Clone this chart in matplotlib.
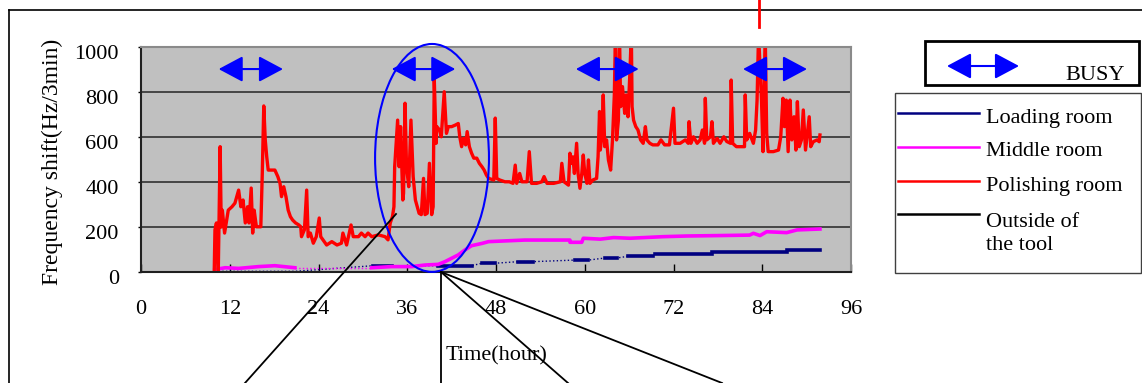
import matplotlib
matplotlib.use('Agg')
import matplotlib.pyplot as plt
from matplotlib.patches import Ellipse, FancyArrowPatch, Rectangle
from matplotlib.lines import Line2D
from matplotlib.transforms import ScaledTranslation

plt.rcParams['font.family'] = ['Liberation Serif', 'DejaVu Serif']

# --- datos (hora, Hz/3min) ---
# Polishing room (rojo)
polish_t1 = [9.9, 10.0, 10.2, 10.45, 10.7, 10.85, 11.0, 11.3, 11.8, 12.3,
             12.7, 13.2, 13.5, 13.8, 14.1, 14.4, 14.6, 14.9, 15.1, 15.3,
             15.6, 16.2, 16.4, 16.6, 16.8, 17.0, 17.2, 17.7, 18.1, 18.5,
             18.8, 19.0, 19.3, 19.6, 19.9, 20.2, 20.5, 20.9, 21.3, 21.6,
             21.7, 22.1, 22.4, 22.6, 22.9, 23.3, 23.7, 24.1, 24.3, 24.6,
             25.1, 25.8, 26.5, 27.1, 27.3, 27.8, 28.4, 28.7, 29.4, 29.8,
             30.3, 30.7, 31.2, 32.1, 33.0, 33.4, 33.7, 34.0, 34.2]
polish_v1 = [0, 187, 218, 5, 557, 200, 275, 173, 275, 290,
             306, 364, 290, 320, 218, 290, 218, 373, 173, 275,
             201, 201, 440, 738, 587, 512, 453, 453, 453, 424,
             394, 335, 379, 335, 275, 246, 231, 218, 210, 201,
             157, 188, 364, 157, 173, 128, 157, 240, 157, 143,
             120, 135, 120, 128, 173, 120, 209, 157, 157, 173,
             157, 173, 157, 165, 157, 143, 218, 246, 290]
polish_t2 = [34.3, 34.7, 34.9, 35.1, 35.4, 35.5, 35.7, 35.9, 36.2, 36.5,
             36.8, 37.1, 37.6, 37.9, 38.2, 38.4, 38.7, 39.0, 39.3, 39.5,
             39.65, 39.9, 40.0, 40.4, 40.6, 41.0, 41.3, 41.55, 42.0, 42.5,
             42.9, 43.1, 43.35, 43.6, 43.9, 44.1, 44.4, 44.7, 45.0, 45.4,
             45.75, 46.1, 46.4, 46.7, 47.0, 47.7, 47.9, 48.1, 48.5, 49.2,
             49.8, 50.3, 50.6, 50.8, 51.2, 51.5, 52.2, 52.5, 52.8, 53.5,
             54.2, 54.5, 54.9, 55.8, 56.7, 56.9, 57.2]
polish_v2 = [468, 675, 468, 646, 320, 350, 750, 468, 379, 675,
             424, 320, 261, 255, 416, 255, 261, 483, 255, 290,
             860, 572, 646, 630, 601, 801, 616, 646, 646, 653,
             660, 601, 557, 594, 565, 624, 557, 528, 506, 506,
             483, 468, 453, 431, 416, 409, 684, 416, 409, 401,
             401, 394, 475, 394, 438, 401, 401, 535, 394, 394,
             401, 424, 394, 394, 401, 483, 401]
polish_t3 = [57.8, 58.0, 58.2, 58.4, 58.6, 58.9, 59.1, 59.35, 59.6, 59.8,
             60.0, 60.3, 60.5, 60.7, 61.1, 61.6, 61.8, 62.0, 62.1, 62.3,
             62.5, 62.7, 62.95, 63.2, 63.5, 63.75, 64.0, 64.15, 64.3, 64.55,
             64.7, 64.85, 65.1, 65.4, 65.6, 65.85, 66.1, 66.3, 66.4, 66.6,
             66.9, 67.2, 67.55, 67.9, 68.2, 68.4, 68.8, 69.2, 69.9, 70.3,
             70.8, 71.45, 72.0, 72.2, 72.9, 73.6, 74.0, 74.1, 74.35, 74.7,
             75.2, 75.6, 75.9, 76.2, 76.3, 76.5, 77.0, 77.2, 77.4, 77.9,
             78.3, 78.8, 79.2, 79.7, 79.8, 80.0, 80.5, 81.2, 81.6, 81.7,
             81.9, 82.3, 82.8, 83.1, 83.3, 83.5, 83.7, 83.9, 84.1, 84.4,
             84.6, 84.8, 85.5, 86.2, 86.5, 86.8, 87.0, 87.25, 87.5, 87.75,
             88.0, 88.3, 88.55, 88.75, 89.0, 89.3, 89.55, 89.85, 90.1, 90.35,
             90.55, 90.9, 91.4, 91.7, 91.8]
polish_v3 = [386, 528, 483, 512, 438, 572, 438, 372, 438, 520,
             438, 394, 498, 394, 409, 416, 512, 713, 542, 601,
             787, 557, 587, 498, 453, 587, 787, 1060, 587, 675,
             1060, 735, 824, 705, 787, 690, 882, 1060, 735, 675,
             646, 631, 587, 572, 646, 587, 572, 565, 565, 587,
             565, 565, 728, 572, 572, 587, 572, 668, 572, 601,
             572, 587, 631, 572, 772, 587, 601, 668, 572, 594,
             572, 601, 580, 572, 853, 572, 557, 557, 557, 787,
             587, 616, 572, 631, 764, 1060, 912, 764, 535, 1060,
             616, 535, 535, 542, 601, 772, 646, 764, 535, 764,
             587, 690, 542, 757, 557, 587, 720, 542, 616, 690,
             557, 579, 587, 579, 609]
polish_t = polish_t1 + polish_t2 + polish_t3
polish_v = polish_v1 + polish_v2 + polish_v3

# Middle room (magenta)
mid_t = [10.0, 10.5, 11.4, 13.2, 15.9, 18.1, 20.8, 31.2, 33.9, 36.6,
         38.4, 40.2, 41.1, 42.0, 42.9, 43.8, 44.7, 46.1, 47.0, 51.9,
         58.0, 58.0, 59.6, 59.8, 62.1, 63.9, 66.1, 70.6, 73.8, 78.3,
         82.3, 82.8, 83.7, 84.6, 87.3, 88.7, 91.8]
mid_v = [9, 14, 19, 16, 24, 28, 19, 19, 24, 24,
         31, 34, 46, 61, 76, 98, 117, 127, 135, 142,
         142, 132, 132, 150, 146, 153, 150, 157, 160, 162,
         164, 172, 162, 179, 175, 187, 191]

# Loading room (azul marino): tramos medidos (inicio, fin)
load_t = [10.0, 20.8, 31.4, 33.9, 40.2, 44.7, 46.1, 47.9, 51.0, 53.0,
          58.7, 60.5, 62.7, 64.3, 65.9, 69.2, 69.5, 77.2, 77.2, 87.3,
          87.3, 91.8]
load_v = [3, 3, 28, 28, 28, 28, 39, 39, 46, 46,
          53, 53, 62, 62, 70, 70, 80, 80, 88, 88,
          98, 98]

# Outside of the tool (negro)
out_t = [10.0, 20.8]
out_v = [2, 2]

# periodos BUSY (inicio, fin) en horas
busy_start = [10.5, 33.9, 58.8, 81.4]
busy_end = [19.2, 42.5, 67.3, 90.05]

legend_names = ['Loading room', 'Middle room', 'Polishing room', 'Outside of\nthe tool']
legend_colors = ['#000080', '#FF00FF', '#FF0000', '#000000']

W, H = 1142, 383
fig = plt.figure(figsize=(W / 100, H / 100), dpi=100)
ax = fig.add_axes([141 / W, 1 - 272 / H, 710 / W, 225 / H])


def fx(x):
    return x / W


def fy(y):
    return 1 - y / H


ax.set_facecolor('#C0C0C0')
ax.set_xlim(0, 96)
ax.set_ylim(0, 1000)
ax.set_xticks(range(0, 97, 12))
ax.set_yticks(range(0, 1001, 200))
ax.yaxis.grid(True, color='#303030', lw=1.2)
ax.set_axisbelow(True)
for s in ['left', 'bottom']:
    ax.spines[s].set_color('#202020')
    ax.spines[s].set_linewidth(1.5)
for s in ['top', 'right']:
    ax.spines[s].set_color('#8a8a8a')
    ax.spines[s].set_linewidth(1.5)
ax.tick_params(axis='x', direction='in', length=6, width=1, pad=20, labelsize=16)
ax.tick_params(axis='y', direction='out', length=2, width=1, pad=14, labelsize=16)
off = ScaledTranslation(0, -5 / 100, fig.dpi_scale_trans)
for lab in ax.get_yticklabels():
    lab.set_transform(lab.get_transform() + off)

ax.set_xlabel('Time(hour)', fontsize=16)
ax.xaxis.set_label_coords(0.5, -0.33)
ax.set_ylabel('Frequency shift(Hz/3min)', fontsize=17)
ax.yaxis.set_label_coords(-0.11, 0.49)

# series
ax.plot(out_t, out_v, color='black', lw=0.8, ls=':', alpha=0.5)
ax.plot(load_t, load_v, color='#000080', lw=1, ls=':')
for i in range(2, len(load_t), 2):
    ax.plot(load_t[i:i + 2], load_v[i:i + 2], color='#000080', lw=2.6)
ax.plot(mid_t[6:8], mid_v[6:8], color='#FF00FF', lw=1, ls=':')
ax.plot(mid_t[:7], mid_v[:7], color='#FF00FF', lw=2.6)
ax.plot(mid_t[7:], mid_v[7:], color='#FF00FF', lw=2.6)
ax.plot(polish_t, polish_v, color='#FF0000', lw=2.4)

# flechas BUSY
for t0, t1 in zip(busy_start, busy_end):
    ax.add_patch(FancyArrowPatch((t0, 902), (t1, 902),
                                 arrowstyle='<|-|>,head_length=0.75,head_width=0.4',
                                 mutation_scale=20, color='#0000FF', lw=1.5,
                                 shrinkA=0, shrinkB=0, clip_on=False, zorder=5))

# elipse
ax.add_patch(Ellipse((39.35, 507), 15.4, 1013, fill=False, ec='#0000FF',
                     lw=1.5, clip_on=False, zorder=6))

# lineas externas (recorte de la figura original)
fig.add_artist(Line2D([fx(9), 1], [fy(10), fy(10)], color='black', lw=1.2))
fig.add_artist(Line2D([fx(9), fx(9)], [fy(10), 0], color='black', lw=1.2))
fig.add_artist(Line2D([fx(759), fx(759)], [fy(0), fy(27)], color='#FF0000', lw=2))
fig.add_artist(Line2D([fx(396), fx(245)], [fy(214), fy(383)], color='black', lw=1.3))
for xe in [441, 568, 722]:
    fig.add_artist(Line2D([fx(441), fx(xe)], [fy(272), fy(383)], color='black', lw=1.3))

# leyenda BUSY
fig.add_artist(Rectangle((fx(925), fy(85)), fx(1139) - fx(925), fy(41) - fy(85),
                         transform=fig.transFigure, fill=False, ec='black', lw=2))
fig.add_artist(FancyArrowPatch((fx(947), fy(66)), (fx(1019), fy(66)),
                               transform=fig.transFigure,
                               arrowstyle='<|-|>,head_length=0.75,head_width=0.4',
                               mutation_scale=20, color='#0000FF', lw=1.5,
                               shrinkA=0, shrinkB=0))
fig.text(fx(1065), fy(80), 'BUSY', fontsize=16, va='baseline', ha='left')

# leyenda de series
fig.add_artist(Rectangle((fx(895), fy(273)), fx(1141) - fx(895), fy(93) - fy(273),
                         transform=fig.transFigure, fill=False, ec='#404040', lw=1))
line_y = [113, 147, 181, 214]
text_y = [118, 152, 186, 234]
for name, col, ly, ty in zip(legend_names, legend_colors, line_y, text_y):
    fig.add_artist(Line2D([fx(898), fx(979)], [fy(ly), fy(ly)], color=col, lw=1.8))
    fig.text(fx(986), fy(ty), name, fontsize=16, va='center', ha='left', linespacing=1.3)

fig.savefig('out.png', dpi=100)
